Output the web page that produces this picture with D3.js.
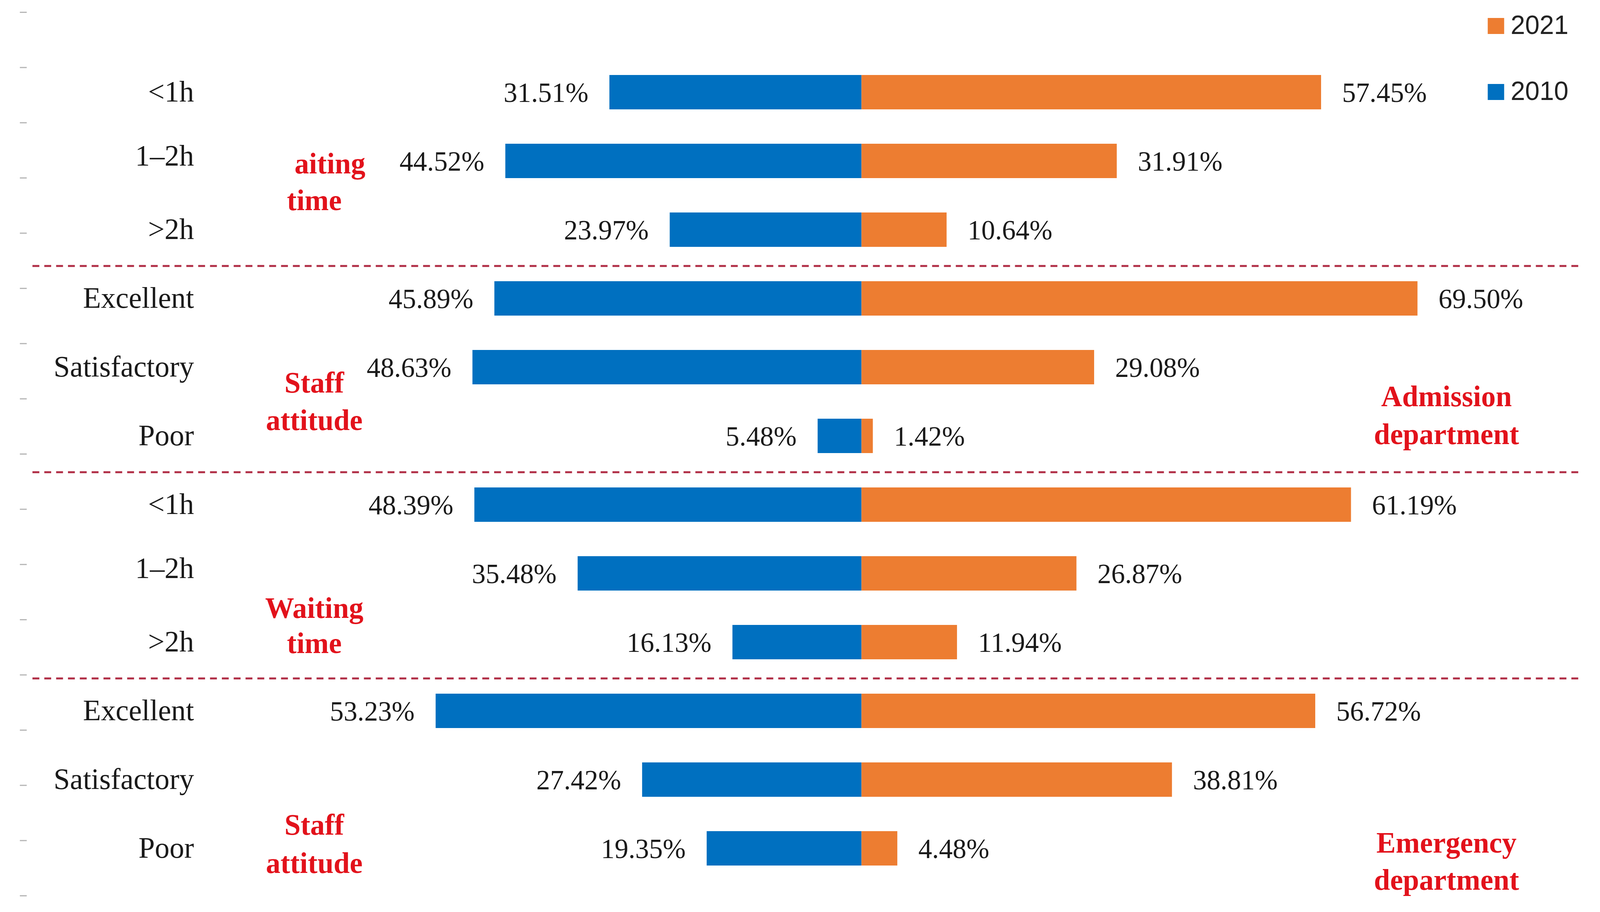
<!DOCTYPE html>
<html>
<head>
<meta charset="utf-8">
<script src="https://cdn.jsdelivr.net/npm/d3@7"></script>
<style>
  html, body { margin: 0; padding: 0; background: #ffffff; overflow: hidden; width: 100%; height: 100%; }
  #chart { width: 100vw; height: 100vh; }
  svg { display: block; width: 100%; height: 100%; }
</style>
</head>
<body>
<div id="chart"></div>
<script>
// ---------------- DATA ----------------
const categories = ["<1h", "1\u20132h", ">2h", "Excellent", "Satisfactory", "Poor",
                    "<1h", "1\u20132h", ">2h", "Excellent", "Satisfactory", "Poor"];
const values2010 = [31.51, 44.52, 23.97, 45.89, 48.63, 5.48, 48.39, 35.48, 16.13, 53.23, 27.42, 19.35];
const values2021 = [57.45, 31.91, 10.64, 69.50, 29.08, 1.42, 61.19, 26.87, 11.94, 56.72, 38.81, 4.48];
const seriesNames = ["2021", "2010"];
const groupBreaks = [2.5, 5.5, 8.5];
// annotation text lines, anchored at a (fractional) row position
const groupLabels = [
  { text: "aiting",     row: 1.18,  side: "leftEnd" },
  { text: "time",       row: 1.715, side: "left" },
  { text: "Staff",      row: 4.37,  side: "left" },
  { text: "attitude",   row: 4.915, side: "left" },
  { text: "Waiting",    row: 7.65,  side: "left" },
  { text: "time",       row: 8.16,  side: "left" },
  { text: "Staff",      row: 10.80, side: "left" },
  { text: "attitude",   row: 11.36, side: "left" },
  { text: "Admission",  row: 4.57,  side: "right" },
  { text: "department", row: 5.12,  side: "right" },
  { text: "Emergency",  row: 11.06, side: "right" },
  { text: "department", row: 11.60, side: "right" }
];

// ---------------- LAYOUT ----------------
const W = 4190, H = 2335;
const centerX = 2256, pxPerPct = 20.95;
const barH = 88;
const blue = "#0070C0", orange = "#ED7D31";
const red = "#E2121B", dashColor = "#B02D45";
const serif = "'Liberation Serif', 'Times New Roman', serif";

const svg = d3.select("#chart").append("svg")
  .attr("viewBox", `0 0 ${W} ${H}`)
  .attr("preserveAspectRatio", "none");
svg.append("rect").attr("width", W).attr("height", H).attr("fill", "#fff");

const x = d3.scaleLinear().domain([-100, 100])
  .range([centerX - 100 * pxPerPct, centerX + 100 * pxPerPct]);
const y = d3.scaleLinear().domain([0, categories.length - 1]).range([236, 2172]);
const idx = d3.range(categories.length);

// faint left ticks (axis remnants)
const tickScale = d3.scaleLinear().domain([0, 16]).range([31, 2293]);
const tickAxis = d3.axisLeft(tickScale).ticks(16).tickSize(18).tickFormat("");
const tg = svg.append("g").attr("transform", "translate(70,0)").call(tickAxis);
tg.select(".domain").remove();
tg.selectAll(".tick line").attr("stroke", "#b5b5b5").attr("stroke-width", 3);

// dashed separators
svg.selectAll("line.sep").data(groupBreaks).enter().append("line")
  .attr("class", "sep")
  .attr("x1", 85).attr("x2", 4137)
  .attr("y1", d => y(d) + 5).attr("y2", d => y(d) + 5)
  .attr("stroke", dashColor).attr("stroke-width", 5)
  .attr("stroke-dasharray", "18 13");

// bars 2010 (left)
svg.selectAll("rect.b2010").data(idx).enter().append("rect")
  .attr("class", "b2010")
  .attr("x", i => x(-values2010[i]))
  .attr("y", i => y(i) - barH / 2)
  .attr("width", i => x(0) - x(-values2010[i]))
  .attr("height", barH)
  .attr("fill", blue);

// bars 2021 (right)
svg.selectAll("rect.b2021").data(idx).enter().append("rect")
  .attr("class", "b2021")
  .attr("x", x(0))
  .attr("y", i => y(i) - barH / 2)
  .attr("width", i => x(values2021[i]) - x(0))
  .attr("height", barH)
  .attr("fill", orange);

const fmt = v => d3.format(".2f")(v) + "%";

// value labels
svg.selectAll("text.l2010").data(idx).enter().append("text")
  .attr("class", "l2010")
  .attr("x", i => x(-values2010[i]) - 55)
  .attr("y", i => y(i) + 25)
  .attr("text-anchor", "end")
  .attr("font-family", serif).attr("font-size", 72).attr("fill", "#1a1a1a")
  .text(i => fmt(values2010[i]));

svg.selectAll("text.l2021").data(idx).enter().append("text")
  .attr("class", "l2021")
  .attr("x", i => x(values2021[i]) + 55)
  .attr("y", i => y(i) + 25)
  .attr("text-anchor", "start")
  .attr("font-family", serif).attr("font-size", 72).attr("fill", "#1a1a1a")
  .text(i => fmt(values2021[i]));

// category labels
svg.selectAll("text.cat").data(idx).enter().append("text")
  .attr("class", "cat")
  .attr("x", 508)
  .attr("y", i => y(i) + 24 - (categories[i] === "1\u20132h" ? 12 : 0))
  .attr("text-anchor", "end")
  .attr("font-family", serif).attr("font-size", 77).attr("fill", "#1a1a1a")
  .text(i => categories[i]);

// group annotations
const rowY = r => y(0) + (y(1) - y(0)) * r;
svg.selectAll("text.grp").data(groupLabels).enter().append("text")
  .attr("class", "grp")
  .attr("x", d => d.side === "right" ? 3788 : (d.side === "leftEnd" ? 957 : 823))
  .attr("y", d => rowY(d.row))
  .attr("text-anchor", d => d.side === "leftEnd" ? "end" : "middle")
  .attr("font-family", serif).attr("font-weight", "bold")
  .attr("font-size", 76).attr("fill", red)
  .text(d => d.text);

// legend
const legendY = d3.scaleOrdinal().domain(seriesNames).range([67, 236]);
const legendColor = d3.scaleOrdinal().domain(seriesNames).range([orange, blue]);
const lg = svg.selectAll("g.leg").data(seriesNames).enter().append("g")
  .attr("class", "leg")
  .attr("transform", d => `translate(3896,${legendY(d)})`);
lg.append("rect").attr("x", 0).attr("y", -21).attr("width", 43).attr("height", 41)
  .attr("fill", d => legendColor(d));
lg.append("text").attr("x", 60).attr("y", 20)
  .attr("font-family", "'Liberation Sans Narrow', 'Arial Narrow', 'Liberation Sans', sans-serif")
  .attr("font-size", 68).attr("fill", "#222")
  .text(d => d);
</script>
</body>
</html>
